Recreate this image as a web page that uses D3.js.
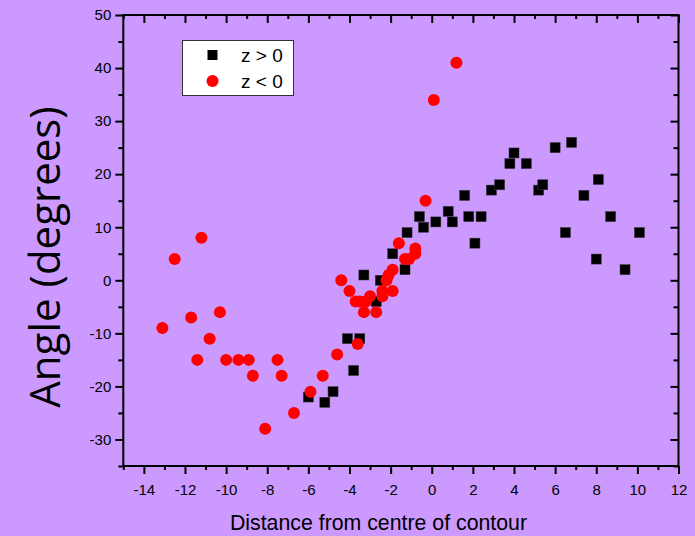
<!DOCTYPE html>
<html><head><meta charset="utf-8">
<script src="https://cdn.jsdelivr.net/npm/d3@7"></script>
<style>
html,body{margin:0;padding:0;background:#cc99ff;}
svg{display:block;}
</style></head>
<body>
<svg id="chart" width="695" height="536"></svg>
<script>
// z > 0 series (black squares)
const posX = [-6.0,-5.2,-4.8,-3.8,-4.1,-3.5,-3.3,-2.7,-2.5,-1.9,-1.3,-1.2,-0.6,-0.4,0.2,0.8,1.0,1.6,1.8,2.1,2.4,2.9,3.3,3.8,4.0,4.6,5.2,5.4,6.0,6.8,6.5,7.4,8.1,8.0,8.7,9.4,10.1];
const posY = [-22,-23,-21,-17,-11,-11,1,-4,0,5,2,9,12,10,11,13,11,16,12,7,12,17,18,22,24,22,17,18,25,26,9,16,19,4,12,2,9];
// z < 0 series (red circles)
const negX = [-13.1,-12.5,-11.7,-11.4,-11.2,-10.8,-10.3,-10.0,-9.4,-8.9,-8.7,-8.1,-7.5,-7.3,-6.7,-5.9,-5.3,-4.6,-4.4,-4.0,-3.7,-3.5,-3.6,-3.3,-3.2,-3.0,-2.7,-2.4,-2.4,-2.2,-2.1,-1.9,-1.9,-1.6,-1.3,-1.1,-0.8,-0.8,-0.3,0.1,1.2];
const negY = [-9,4,-7,-15,8,-11,-6,-15,-15,-15,-18,-28,-15,-18,-25,-21,-18,-14,0,-2,-4,-4,-12,-6,-4,-3,-6,-2,-3,0,1,2,-2,7,4,4,5,6,15,34,41];
const xTicks = [-14,-12,-10,-8,-6,-4,-2,0,2,4,6,8,10,12];
const yTicks = [-30,-20,-10,0,10,20,30,40,50];
const legendLabels = ["z > 0","z < 0"];
const xTitle = "Distance from centre of contour";
const yTitle = "Angle (degrees)";

const svg = d3.select("#chart");
const L = 123.3, R = 678.5, T = 15, B = 466;
const x = d3.scaleLinear().domain([-15, 12]).range([L, R]);
const y = d3.scaleLinear().domain([-35, 50]).range([B, T]);

const minorX = d3.range(-15, 12.01, 1).filter(v => !xTicks.includes(v));
const minorY = d3.range(-35, 50.01, 5).filter(v => !yTicks.includes(v));

function styleAxis(g){
  g.select(".domain").remove();
  g.selectAll("line").attr("stroke","#000").attr("stroke-width",2);
  g.selectAll("text").attr("font-family","'Liberation Sans', Arial, sans-serif").attr("font-size",15).attr("fill","#000");
}

// bottom axis
const gb = svg.append("g").attr("transform",`translate(0,${B})`)
  .call(d3.axisBottom(x).tickValues(xTicks).tickFormat(d=>d).tickSize(8).tickPadding(10));
styleAxis(gb);
svg.append("g").attr("transform",`translate(0,${B})`)
  .call(d3.axisBottom(x).tickValues(minorX).tickFormat("").tickSize(4)).call(styleAxis);
// top axis (inward)
svg.append("g").attr("transform",`translate(0,${T})`)
  .call(d3.axisBottom(x).tickValues(xTicks).tickFormat("").tickSize(8)).call(styleAxis);
svg.append("g").attr("transform",`translate(0,${T})`)
  .call(d3.axisBottom(x).tickValues(minorX).tickFormat("").tickSize(4)).call(styleAxis);
// left axis
const gl = svg.append("g").attr("transform",`translate(${L},0)`)
  .call(d3.axisLeft(y).tickValues(yTicks).tickFormat(d=>d).tickSize(8).tickPadding(4));
styleAxis(gl);
svg.append("g").attr("transform",`translate(${L},0)`)
  .call(d3.axisLeft(y).tickValues(minorY).tickFormat("").tickSize(5)).call(styleAxis);
// right axis (inward)
svg.append("g").attr("transform",`translate(${R},0)`)
  .call(d3.axisLeft(y).tickValues(yTicks).tickFormat("").tickSize(8)).call(styleAxis);
svg.append("g").attr("transform",`translate(${R},0)`)
  .call(d3.axisLeft(y).tickValues(minorY).tickFormat("").tickSize(5)).call(styleAxis);

// frame
svg.append("rect").attr("x",L).attr("y",T).attr("width",R-L).attr("height",B-T)
  .attr("fill","none").attr("stroke","#000").attr("stroke-width",2);

// data
const pos = posX.map((v,i)=>({x:v,y:posY[i]}));
const neg = negX.map((v,i)=>({x:v,y:negY[i]}));
const sq = 10;
svg.append("g").selectAll("rect").data(pos).join("rect")
  .attr("x",d=>x(d.x)-sq/2).attr("y",d=>y(d.y)-sq/2).attr("width",sq).attr("height",sq)
  .attr("fill","#000").attr("stroke","#333").attr("stroke-width",0.5);
svg.append("g").selectAll("circle").data(neg).join("circle")
  .attr("cx",d=>x(d.x)).attr("cy",d=>y(d.y)).attr("r",6)
  .attr("fill","#ff0000");

// legend
const lg = svg.append("g");
lg.append("rect").attr("x",182.5).attr("y",40.5).attr("width",111).attr("height",55)
  .attr("fill","#fff").attr("stroke","#333").attr("stroke-width",1);
lg.append("rect").attr("x",212.5-sq/2).attr("y",55-sq/2).attr("width",sq).attr("height",sq).attr("fill","#000");
lg.append("circle").attr("cx",212.5).attr("cy",81).attr("r",6).attr("fill","#ff0000");
lg.selectAll("text").data(legendLabels).join("text")
  .attr("x",241).attr("y",(d,i)=>61.5+i*26)
  .attr("font-family","'Liberation Sans', Arial, sans-serif").attr("font-size",19).attr("fill","#000")
  .text(d=>d);

// titles
svg.append("text").attr("x",378.5).attr("y",530).attr("text-anchor","middle")
  .attr("font-family","'Liberation Sans', Arial, sans-serif").attr("font-size",21.3).attr("fill","#000")
  .text(xTitle);
svg.append("text").attr("transform","translate(60,257) rotate(-90)").attr("text-anchor","middle")
  .attr("font-family","'Open Sans', sans-serif").attr("font-size",42).attr("fill","#000")
  .text(yTitle);
</script>
</body></html>
